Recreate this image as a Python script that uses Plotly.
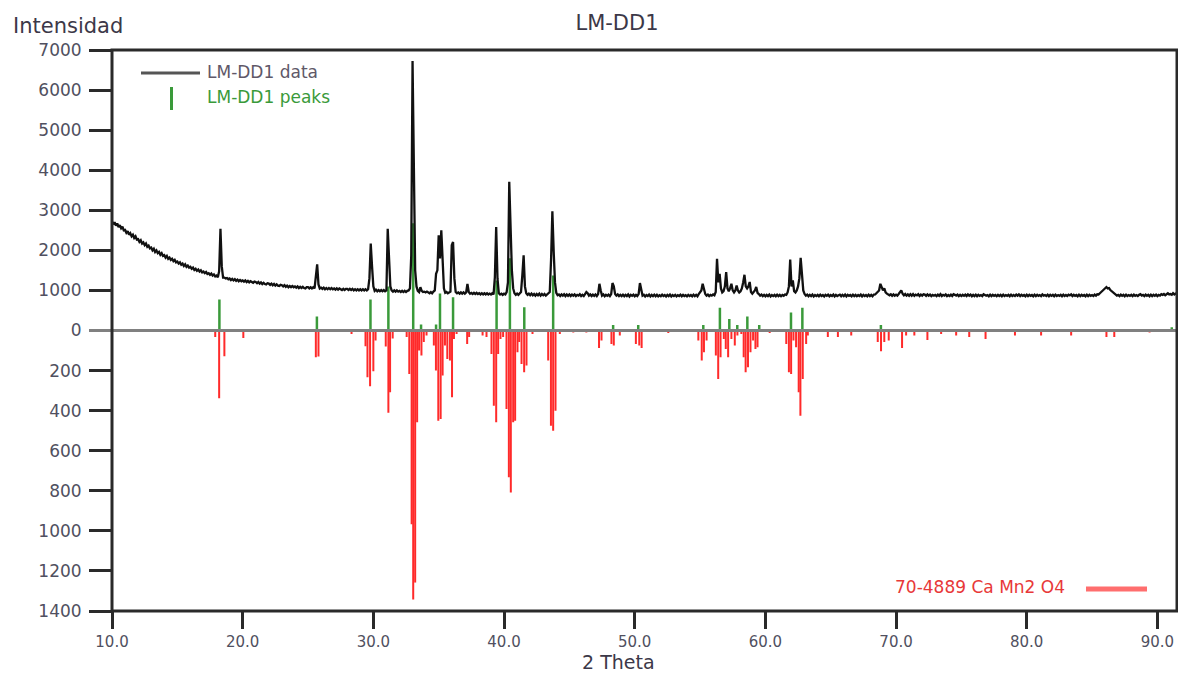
import numpy as np
import plotly.graph_objects as go

# ---------------- measured scan (2-theta step scan) ----------------
SCAN_START = 10.0
SCAN_STEP = 0.1
intensity = [
    2720, 2650, 2700, 2620, 2670, 2580, 2630, 2550, 2590, 2500,  # 10
    2510, 2440, 2480, 2390, 2430, 2350, 2390, 2310, 2350, 2270,  # 11
    2280, 2210, 2250, 2170, 2200, 2130, 2170, 2090, 2120, 2050,  # 12
    2070, 2000, 2040, 1960, 2000, 1930, 1960, 1890, 1930, 1860,  # 13
    1880, 1820, 1860, 1790, 1820, 1760, 1790, 1730, 1760, 1700,  # 14
    1720, 1670, 1700, 1640, 1670, 1610, 1650, 1590, 1620, 1570,  # 15
    1590, 1540, 1570, 1510, 1540, 1490, 1520, 1470, 1500, 1450,  # 16
    1470, 1430, 1460, 1410, 1430, 1390, 1420, 1370, 1400, 1350,  # 17
    1370, 1330, 1480, 2540, 1600, 1320, 1320, 1300, 1310, 1280,  # 18
    1300, 1260, 1290, 1250, 1280, 1240, 1270, 1230, 1260, 1230,  # 19
    1250, 1220, 1250, 1210, 1240, 1200, 1230, 1200, 1190, 1220,  # 20
    1210, 1180, 1210, 1170, 1200, 1160, 1190, 1160, 1150, 1180,  # 21
    1170, 1140, 1170, 1130, 1160, 1120, 1150, 1120, 1110, 1140,  # 22
    1130, 1100, 1130, 1090, 1120, 1080, 1110, 1080, 1110, 1080,  # 23
    1100, 1070, 1100, 1060, 1090, 1060, 1090, 1060, 1050, 1080,  # 24
    1080, 1050, 1080, 1050, 1080, 1050, 1300, 1650, 1150, 1050,  # 25
    1070, 1040, 1070, 1030, 1060, 1030, 1060, 1030, 1060, 1030,  # 26
    1050, 1020, 1050, 1020, 1050, 1020, 1010, 1040, 1010, 1040,  # 27
    1040, 1010, 1040, 1010, 1040, 1000, 1030, 1000, 1030, 1000,  # 28
    1030, 1000, 1030, 1000, 1030, 1000, 1030, 1300, 2170, 1600,  # 29
    1100, 990, 1020, 980, 1010, 980, 1010, 980, 1010, 980,       # 30
    1000, 2540, 1775, 1100, 1000, 970, 1000, 970, 1000, 970,     # 31
    990, 960, 990, 960, 990, 960, 990, 1000, 1050, 1875,         # 32
    6725, 4125, 1500, 1100, 990, 960, 1080, 990, 960, 970,       # 33
    950, 970, 950, 930, 960, 930, 970, 1000, 1415, 1500,         # 34
    2375, 1800, 2500, 1600, 1050, 940, 960, 930, 950, 970,       # 35
    2125, 2210, 1300, 960, 930, 950, 920, 950, 920, 950,         # 36
    920, 950, 1165, 960, 920, 940, 910, 940, 910, 940,           # 37
    910, 930, 900, 930, 900, 930, 900, 930, 900, 920,            # 38
    900, 930, 900, 1335, 2585, 1300, 930, 900, 920, 890,         # 39
    920, 900, 960, 1200, 3710, 2460, 1500, 1050, 930, 890,       # 40
    920, 890, 920, 960, 1375, 1875, 1100, 930, 890, 920,         # 41
    880, 920, 880, 910, 870, 910, 880, 920, 870, 910,            # 42
    880, 910, 870, 900, 920, 960, 1770, 2975, 1975, 1200,        # 43
    940, 880, 900, 860, 900, 870, 905, 860, 900, 865,            # 44
    900, 860, 895, 870, 900, 860, 890, 870, 905, 860,            # 45
    890, 860, 910, 960, 930, 870, 900, 860, 895, 865,            # 46
    900, 860, 910, 1165, 1000, 870, 900, 855, 890, 865,          # 47
    895, 860, 910, 1185, 1100, 910, 870, 900, 860, 890,          # 48
    860, 895, 855, 890, 860, 900, 850, 890, 865, 895,            # 49
    855, 890, 860, 910, 1185, 1000, 870, 890, 850, 885,          # 50
    860, 895, 850, 890, 860, 895, 855, 890, 850, 880,            # 51
    855, 895, 860, 885, 850, 890, 860, 895, 850, 885,            # 52
    860, 890, 850, 880, 860, 895, 855, 890, 860, 880,            # 53
    850, 890, 860, 885, 855, 895, 860, 890, 855, 910,            # 54
    950, 1000, 1165, 1000, 910, 870, 895, 860, 890, 870,         # 55
    900, 880, 960, 1790, 1200, 1415, 1050, 950, 980, 1100,       # 56
    1460, 1050, 980, 1050, 1165, 1000, 950, 1000, 1125, 1000,    # 57
    950, 980, 1050, 1200, 1390, 1100, 1050, 1100, 1210, 960,     # 58
    920, 960, 1000, 1085, 940, 910, 870, 895, 860, 890,          # 59
    855, 890, 860, 895, 850, 885, 860, 890, 855, 895,            # 60
    860, 890, 855, 885, 865, 900, 890, 950, 1100, 1770,          # 61
    1100, 1250, 980, 950, 1000, 1100, 1300, 1815, 1415, 1000,    # 62
    910, 870, 895, 855, 890, 860, 895, 850, 885, 860,            # 63
    890, 855, 895, 860, 885, 850, 890, 865, 895, 855,            # 64
    885, 860, 895, 850, 890, 860, 880, 895, 855, 890,            # 65
    860, 895, 850, 890, 865, 885, 855, 895, 860, 890,            # 66
    855, 885, 860, 895, 850, 890, 860, 885, 855, 895,            # 67
    860, 890, 855, 895, 900, 930, 950, 1000, 1165, 1050,         # 68
    1000, 1050, 950, 920, 900, 880, 905, 865, 900, 870,          # 69
    895, 870, 910, 950, 1000, 920, 880, 910, 870, 900,           # 70
    865, 905, 870, 910, 865, 895, 875, 905, 860, 895,            # 71
    870, 905, 895, 865, 900, 870, 895, 860, 890, 870,            # 72
    890, 860, 895, 865, 905, 860, 890, 870, 900, 860,            # 73
    885, 860, 895, 860, 905, 890, 870, 895, 860, 890,            # 74
    860, 890, 865, 895, 860, 900, 870, 895, 855, 890,            # 75
    860, 895, 855, 890, 865, 885, 860, 905, 890, 870,            # 76
    885, 855, 895, 860, 890, 865, 885, 855, 890, 860,            # 77
    890, 855, 895, 860, 885, 865, 890, 855, 895, 860,            # 78
    885, 860, 895, 870, 900, 860, 890, 865, 885, 855,            # 79
    895, 860, 890, 865, 885, 855, 895, 860, 890, 865,            # 80
    885, 860, 900, 870, 885, 860, 895, 855, 890, 865,            # 81
    890, 855, 895, 860, 885, 865, 890, 855, 895, 860,            # 82
    885, 860, 895, 875, 900, 860, 890, 865, 885, 855,            # 83
    895, 860, 890, 865, 885, 855, 895, 860, 890, 865,            # 84
    885, 860, 895, 870, 905, 900, 930, 960, 995, 1010,           # 85
    1040, 1085, 1050, 1060, 1010, 980, 950, 910, 900, 870,       # 86
    890, 860, 895, 865, 890, 855, 895, 860, 885, 865,            # 87
    890, 860, 895, 865, 885, 860, 890, 905, 870, 890,            # 88
    860, 895, 865, 890, 855, 895, 860, 890, 865, 895,            # 89
    860, 890, 870, 905, 890, 910, 880, 900, 930, 900,            # 90
    910, 890, 930, 900, 920, 905,                                # 91
]
two_theta = SCAN_START + SCAN_STEP * np.arange(len(intensity))

# ---------------- peak search result (LM-DD1 peaks) ----------------
peak_pos = [18.22, 25.68, 29.78, 31.15, 33.05, 33.65, 34.80, 35.10, 36.10,
            39.43, 40.45, 41.55, 43.76, 48.35, 50.27, 55.25, 56.52, 57.24,
            57.85, 58.62, 59.53, 61.96, 62.83, 68.84, 91.10]
peak_int = [775, 350, 775, 1100, 2675, 150, 150, 925, 830,
            1250, 1800, 580, 1375, 140, 140, 140, 565, 290,
            140, 350, 140, 450, 565, 140, 80]

# ---------------- reference pattern 70-4889 CaMn2O4 ----------------
ref_pos = [17.90, 18.20, 18.60, 20.05, 25.60, 25.80, 28.33, 29.40, 29.55,
           29.75, 30.00, 30.17, 30.95, 31.15, 31.28, 31.48, 32.55, 32.75,
           32.93, 33.05, 33.20, 33.35, 33.50, 33.68, 33.86, 34.07, 34.63,
           34.79, 34.97, 35.15, 35.30, 35.48, 35.66, 35.86, 36.02, 36.17,
           36.37, 37.18, 37.33, 38.36, 38.66, 39.04, 39.22, 39.40, 39.55,
           39.73, 39.93, 40.19, 40.37, 40.52, 40.70, 40.85, 41.03, 41.16,
           41.34, 41.54, 41.72, 42.18, 43.38, 43.59, 43.76, 43.94, 44.27,
           45.30, 46.30, 47.27, 47.46, 48.22, 48.40, 48.86, 50.09, 50.35,
           50.53, 52.57, 54.87, 55.13, 55.30, 55.50, 56.21, 56.39, 56.57,
           56.82, 56.97, 57.15, 57.40, 57.66, 57.86, 58.16, 58.34, 58.49,
           58.67, 58.86, 59.06, 59.24, 59.40, 59.57, 60.33, 61.60, 61.80,
           61.97, 62.15, 62.35, 62.55, 62.68, 62.86, 63.12, 63.25, 64.78,
           65.55, 66.57, 68.60, 68.85, 69.10, 69.44, 70.46, 70.77, 71.40,
           72.40, 73.45, 74.60, 75.60, 76.85, 79.10, 81.10, 83.40, 86.10,
           86.70, 89.40]
ref_int = [33, 338, 128, 38, 133, 130, 17, 78, 233,
           278, 203, 50, 80, 410, 308, 40, 33, 217,
           967, 1342, 1258, 458, 100, 125, 58, 25, 75,
           200, 450, 442, 225, 75, 142, 150, 333, 42,
           17, 67, 33, 25, 33, 117, 375, 458, 117,
           42, 33, 392, 733, 808, 458, 450, 108, 58,
           167, 208, 175, 17, 150, 475, 500, 400, 17,
           10, 10, 87, 50, 67, 75, 25, 67, 75,
           87, 13, 50, 150, 108, 50, 125, 242, 133,
           42, 92, 133, 42, 75, 25, 17, 133, 208,
           183, 108, 50, 92, 83, 8, 13, 67, 208,
           217, 50, 83, 308, 425, 242, 67, 25, 33,
           33, 25, 58, 103, 58, 50, 87, 25, 25,
           47, 17, 25, 33, 42, 25, 25, 25, 33,
           33, 10]

Y_TICKS_TOP = [0, 1000, 2000, 3000, 4000, 5000, 6000, 7000]
Y_TICKS_BOTTOM = [200, 400, 600, 800, 1000, 1200, 1400]
X_TICKS = [10, 20, 30, 40, 50, 60, 70, 80, 90]


def sticks(pos, val):
    """Vertical stick segments from zero to each value."""
    xs, ys = [], []
    for p, v in zip(pos, val):
        xs += [p, p, None]
        ys += [0, v, None]
    return xs, ys


# ---------------- layout geometry (pixels) ----------------
W, H = 1178, 673
L, R, T, B = 112, 1177, 50, 611
PW, PH = R - L, B - T


def px(x):
    return (x - L) / PW


def py(y):
    return (B - y) / PH


FONT = "DejaVu Sans"
AX = "#2a2a2a"
TICKFONT = dict(family=FONT, size=17, color="#505060")

fig = go.Figure()

gx, gy = sticks(peak_pos, peak_int)
fig.add_trace(go.Scatter(x=gx, y=gy, mode="lines", xaxis="x", yaxis="y",
                         line=dict(color="#3a9a3a", width=2.5),
                         hoverinfo="skip", showlegend=False))

fig.add_trace(go.Scatter(x=two_theta, y=intensity, mode="lines",
                         xaxis="x", yaxis="y",
                         line=dict(color="#111111", width=2.3),
                         name="LM-DD1 data", showlegend=False))

rx, ry = sticks(ref_pos, ref_int)
fig.add_trace(go.Scatter(x=rx, y=ry, mode="lines", xaxis="x", yaxis="y2",
                         line=dict(color="#ff2a2a", width=2),
                         name="70-4889 Ca Mn2 O4", showlegend=False))

shapes = [
    # zero line separating measured and reference halves
    dict(type="line", xref="paper", yref="paper", x0=px(89), x1=1,
         y0=py(330.5), y1=py(330.5), line=dict(color="#808080", width=3),
         layer="above"),
    # plot frame
    dict(type="rect", xref="paper", yref="paper", x0=0, x1=1, y0=0, y1=1,
         line=dict(color=AX, width=3), layer="above"),
    # legend keys
    dict(type="line", xref="paper", yref="paper", x0=px(141), x1=px(200),
         y0=py(73), y1=py(73), line=dict(color="#555555", width=3)),
    dict(type="line", xref="paper", yref="paper", x0=px(171.5), x1=px(171.5),
         y0=py(87), y1=py(110), line=dict(color="#3a9a3a", width=3)),
    dict(type="line", xref="paper", yref="paper", x0=px(1086), x1=px(1147),
         y0=py(589), y1=py(589), line=dict(color="#ff6e6e", width=5)),
]

annotations = [
    dict(text="Intensidad", xref="paper", yref="paper", x=px(11), y=py(26),
         xanchor="left", yanchor="middle", showarrow=False,
         font=dict(family=FONT, size=21, color="#3c3848")),
    dict(text="2 Theta", xref="paper", yref="paper", x=px(618), y=py(662),
         xanchor="center", yanchor="middle", showarrow=False,
         font=dict(family=FONT, size=19, color="#3c3848")),
    dict(text="LM-DD1 data", xref="paper", yref="paper", x=px(205), y=py(72),
         xanchor="left", yanchor="middle", showarrow=False,
         font=dict(family=FONT, size=17, color="#605868")),
    dict(text="LM-DD1 peaks", xref="paper", yref="paper", x=px(205), y=py(97),
         xanchor="left", yanchor="middle", showarrow=False,
         font=dict(family=FONT, size=17, color="#3a9a3a")),
    dict(text="70-4889 Ca Mn2 O4", xref="paper", yref="paper", x=px(893),
         y=py(587), xanchor="left", yanchor="middle", showarrow=False,
         font=dict(family=FONT, size=17, color="#e83838")),
]

fig.update_layout(
    width=W, height=H,
    margin=dict(l=L, r=W - R, t=T, b=H - B),
    paper_bgcolor="white", plot_bgcolor="white",
    title=dict(text="LM-DD1", x=617 / W, xanchor="center",
               y=1 - 23 / H, yanchor="middle",
               font=dict(family=FONT, size=21, color="#3c3848")),
    xaxis=dict(range=[10, 91.5], anchor="y2", tickvals=X_TICKS,
               tickformat=".1f", ticks="outside", ticklen=17, tickwidth=3,
               tickcolor=AX, showgrid=False, zeroline=False, showline=False,
               tickfont=dict(family=FONT, size=15, color="#505060"),
               ticklabelstandoff=0),
    yaxis=dict(domain=[0.5, 1], range=[0, 7000], anchor="x",
               tickvals=Y_TICKS_TOP, ticks="outside", ticklen=22, tickwidth=3,
               tickcolor=AX, showgrid=False, zeroline=False, showline=False,
               tickfont=TICKFONT, ticklabelstandoff=4),
    yaxis2=dict(domain=[0, 0.5], range=[1400, 0], anchor="x",
                tickvals=Y_TICKS_BOTTOM, ticks="outside", ticklen=22,
                tickwidth=3, tickcolor=AX, showgrid=False, zeroline=False,
                showline=False, tickfont=TICKFONT, ticklabelstandoff=4),
    shapes=shapes,
    annotations=annotations,
)

fig.write_html("out.html")
